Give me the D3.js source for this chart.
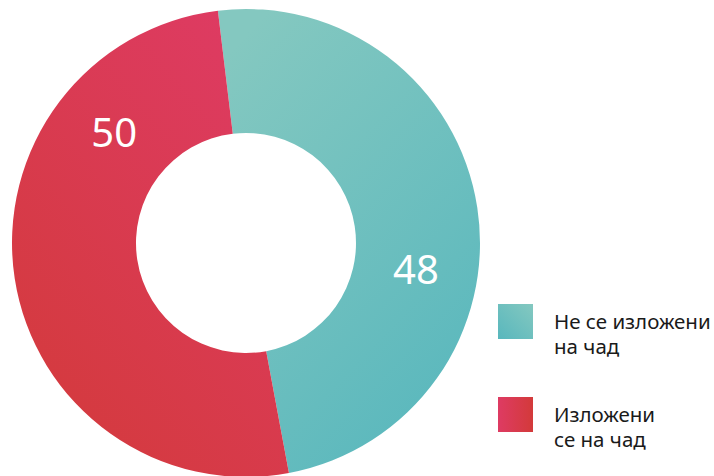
<!DOCTYPE html>
<html>
<head>
<meta charset="utf-8">
<script src="https://cdn.jsdelivr.net/npm/d3@7"></script>
<style>
  html, body { margin: 0; padding: 0; background: #fff; }
  svg { display: block; font-family: "Noto Sans", "Open Sans", sans-serif; }
</style>
</head>
<body>
<svg id="chart" width="714" height="476"></svg>
<script>
// data
const categories = ["Не се изложени на чад", "Изложени се на чад"];
const values = [48, 50];
const legendLines = [["Не се изложени", "на чад"], ["Изложени", "се на чад"]];
// where inside its slice each number sits (0 = slice start, 1 = slice end)
const labelSpot = [0.6, 0.765];

const gradStops = [
    ["#84c8c0", "#58b7bd"],
    ["#de3b63", "#d33a3a"]
];

const svg = d3.select("#chart");
const cx = 246, cy = 243;
const outerR = 234, innerR = 110;
const startA = -6.9 * Math.PI / 180;

//Gradients for the slices and the legend swatches
const defs = svg.append("defs");
// teal: light at top-left, darker bottom-right ; red: pink top-right, red bottom-left
const sliceDirs = [
    {x1: 0.2, y1: 0, x2: 0.8, y2: 1},
    {x1: 0.8, y1: 0, x2: 0.1, y2: 1}
];
const swatchDirs = [
    {x1: 1, y1: 0, x2: 0, y2: 1},
    {x1: 0, y1: 0.5, x2: 1, y2: 0.5}
];
function addGrad(id, dir, stops){
    let g = defs.append("linearGradient").attr("id", id)
        .attr("x1", dir.x1).attr("y1", dir.y1).attr("x2", dir.x2).attr("y2", dir.y2);
    g.append("stop").attr("offset", 0).attr("stop-color", stops[0]);
    g.append("stop").attr("offset", 1).attr("stop-color", stops[1]);
}
values.forEach((v, i) => {
    addGrad("slice" + i, sliceDirs[i], gradStops[i]);
    addGrad("swatch" + i, swatchDirs[i], gradStops[i]);
});

const pie = d3.pie().sort(null).value(d => d)
    .startAngle(startA).endAngle(startA + 2 * Math.PI);
const arcs = pie(values);
const arc = d3.arc().innerRadius(innerR).outerRadius(outerR);

const g = svg.append("g").attr("transform", `translate(${cx},${cy})`);
g.selectAll("path.slice")
    .data(arcs)
    .enter().append("path")
        .attr("class", "slice")
        .attr("d", arc)
        .attr("fill", (d, i) => `url(#slice${i})`);

//Value labels
const labelR = (innerR + outerR) / 2;
g.selectAll("text.val")
    .data(arcs)
    .enter().append("text")
        .attr("class", "val")
        .each(function(d, i){
            let a = d.startAngle + (d.endAngle - d.startAngle) * labelSpot[i];
            d3.select(this)
                .attr("x", labelR * Math.sin(a))
                .attr("y", -labelR * Math.cos(a));
        })
        .attr("text-anchor", "middle")
        .attr("dy", "0.36em")
        .attr("fill", "#fff")
        .attr("font-size", 40)
        .text(d => d.value);

//Legend
const legend = svg.append("g").attr("transform", "translate(498,304)");
const items = legend.selectAll("g")
    .data(categories)
    .enter().append("g")
        .attr("transform", (d, i) => `translate(0, ${i * 93})`);
items.append("rect")
    .attr("width", 35).attr("height", 35)
    .attr("fill", (d, i) => `url(#swatch${i})`);
// one text per line so the lines stay separate boxes
items.selectAll("text")
    .data((d, i) => legendLines[i])
    .enter().append("text")
        .attr("x", 56)
        .attr("y", (d, j) => 25 + j * 24.5)
        .attr("font-size", 20.5)
        .attr("fill", "#1a1a1a")
        .text(d => d);
</script>
</body>
</html>
